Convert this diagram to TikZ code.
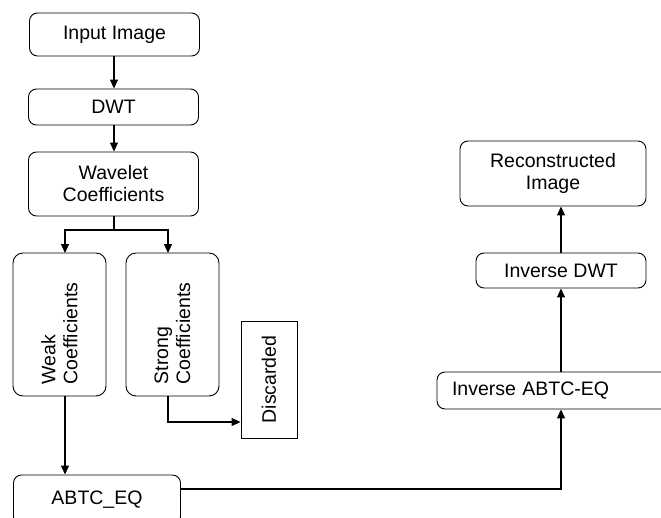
\documentclass[tikz,border=0pt]{standalone}
\usepackage{fontspec}
\setmainfont{Liberation Sans}
\usepackage{tikz}
\usetikzlibrary{positioning,arrows.meta}
\tikzset{
    dwtbox/.style={draw, rounded corners=8pt, align=center, line width=0.9pt},
    dwtvbox/.style={draw, rounded corners=10pt, align=left, rotate=90, line width=0.9pt, minimum width=143pt, minimum height=93pt},
    dwtplain/.style={draw, rectangle, rotate=90, line width=0.9pt, minimum width=117pt, minimum height=56pt},
    dwtarrow/.style={draw, -{Triangle[length=9pt, width=8pt]}, line width=1.2pt},
    dwtline/.style={draw, line width=1.1pt}
}

\begin{document}
\begin{tikzpicture}[x=1pt, y=-1pt, font=\fontsize{19.5}{22}\selectfont]
    \clip (0,0) rectangle (661,517);
    % forward path
    \node[dwtbox, minimum width=170pt, minimum height=43pt] (input) at (114.5,34.5) {Input Image};
    \node[dwtbox, minimum width=170pt, minimum height=36pt] (dwt) at (113.5,107) {DWT};
    \node[dwtbox, minimum width=170pt, minimum height=64pt] (wavelet) at (113.5,184) {Wavelet\\Coefficients};
    \node[dwtvbox] (weak) at (59.5,324.5) {Weak\\Coefficients\hspace*{18pt}};
    \node[dwtvbox] (strong) at (172.5,324.5) {Strong\\Coefficients\hspace*{18pt}};
    \node[dwtplain] (discard) at (269,379.5) {Discarded};
    \node[dwtbox, minimum width=167pt, minimum height=50pt] (abtc) at (97,500) {ABTC\_EQ};
    % inverse path
    \node[dwtbox, minimum width=263pt, minimum height=37pt, text width=233pt, align=left] (invabtc) at (568.5,390.5) {Inverse ABTC-EQ};
    \node[dwtbox, minimum width=170pt, minimum height=35pt] (invdwt) at (561,270.5) {Inverse DWT};
    \node[dwtbox, minimum width=186pt, minimum height=65pt] (recon) at (553,173.5) {Reconstructed\\Image};

    \coordinate (split) at (114,230);
    \coordinate (turn) at (561,489);

    \draw[dwtarrow] (input.south -| split) -- (dwt.north -| split);
    \draw[dwtarrow] (dwt.south -| split) -- (wavelet.north -| split);
    \draw[dwtline] (wavelet.south -| split) -- (split);
    \draw[dwtarrow] (split) -| (65,253);
    \draw[dwtarrow] (split) -| (168,253);
    \draw[dwtarrow] (65,396) -- (abtc.north -| 65,0);
    \draw[dwtarrow] (168,396) |- (discard.north |- 0,422);
    \draw[dwtarrow] (abtc.east |- turn) -- (turn) -- (invabtc.south -| turn);
    \draw[dwtarrow] (invabtc.north -| turn) -- (invdwt.south);
    \draw[dwtarrow] (invdwt.north) -- (invdwt.north |- recon.south);
\end{tikzpicture}
\end{document}
